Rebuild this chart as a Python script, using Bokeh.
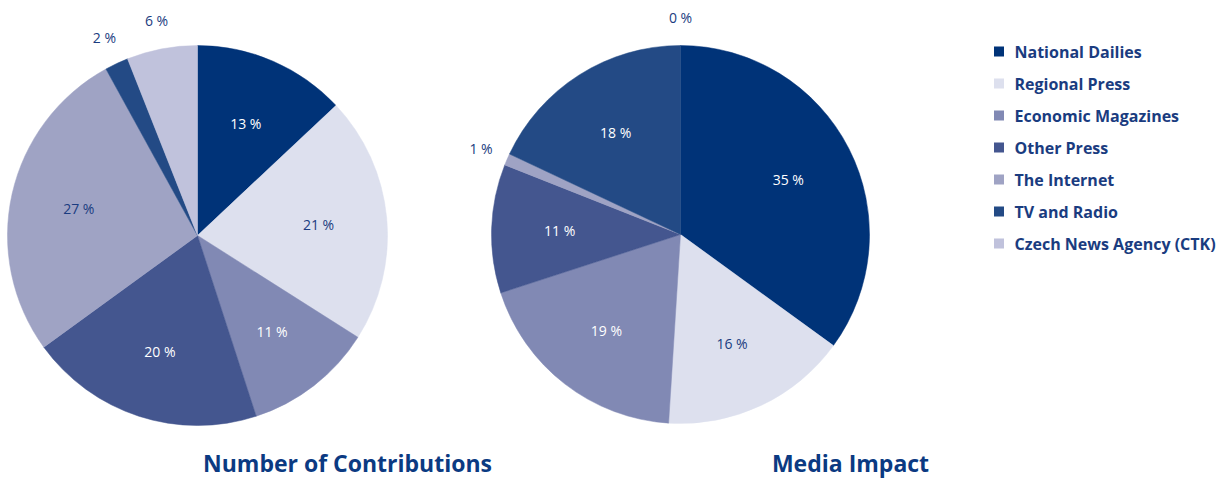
import math
from bokeh.plotting import figure
from bokeh.models import Range1d, ColumnDataSource
from bokeh.core.properties import value
from bokeh.embed import file_html
from bokeh.resources import INLINE

categories = ["National Dailies", "Regional Press", "Economic Magazines", "Other Press",
              "The Internet", "TV and Radio", "Czech News Agency (CTK)"]
contributions = [13, 21, 11, 20, 27, 2, 6]
media_impact = [35, 16, 19, 11, 1, 18, 0]
titles = ["Number of Contributions", "Media Impact"]

colors = ["#003378", "#dde0ee", "#8189b4", "#44568f", "#9fa3c4", "#234a85", "#c0c2dc"]
NAVY = "#1a3c80"
label_colors = ["white", NAVY, "white", "white", NAVY, "white", NAVY]
FONT = "Open Sans"

W, H = 1220, 478
p = figure(width=W, height=H, output_backend="svg", toolbar_location=None,
           x_range=Range1d(0, W), y_range=Range1d(0, H),
           min_border=0, outline_line_color=None)
p.axis.visible = False
p.grid.visible = False
p.background_fill_color = "white"


def Y(img_y):
    return H - img_y


def draw_pie(cx, cy, r, vals, title, tx, ty):
    total = sum(vals)
    cum = 0.0
    starts, ends, cols = [], [], []
    lx, ly, lt, lc = [], [], [], []
    for v, c, tc in zip(vals, colors, label_colors):
        a0 = math.pi / 2 - 2 * math.pi * cum / total
        a1 = math.pi / 2 - 2 * math.pi * (cum + v) / total
        if v > 0:
            starts.append(a1)
            ends.append(a0)
            cols.append(c)
        mid = (a0 + a1) / 2
        inside = v >= 10
        rr = r * (0.64 if inside else 1.15)
        lx.append(cx + rr * math.cos(mid))
        ly.append(cy + rr * math.sin(mid))
        lt.append(f"{v} %")
        lc.append(tc if inside else NAVY)
        cum += v
    src = ColumnDataSource(dict(s=starts, e=ends, c=cols))
    p.wedge(x=cx, y=cy, radius=r, start_angle="s", end_angle="e", fill_color="c",
            line_color="c", line_width=0.5, source=src)
    lsrc = ColumnDataSource(dict(x=lx, y=ly, t=lt, c=lc))
    p.text(x="x", y="y", text="t", text_color="c", source=lsrc,
           text_font=value(FONT), text_font_size="14px",
           text_align="center", text_baseline="middle")
    p.text(x=[tx], y=[ty], text=[title], text_color="#0b3a82",
           text_font=value(FONT), text_font_size="23px", text_font_style="bold",
           text_align="center", text_baseline="middle")


draw_pie(197, Y(235), 190, contributions, titles[0], 347, Y(462))
draw_pie(680, Y(234), 189, media_impact, titles[1], 850, Y(462))

# legend
lgx = [998.5] * len(categories)
lgy = [Y(51 + 32 * i) for i in range(len(categories))]
p.rect(x=lgx, y=lgy, width=10, height=10, fill_color=colors, line_color=None)
p.text(x=[1014] * len(categories), y=lgy, text=categories, text_color="#1a3c80",
       text_font=value(FONT), text_font_size="16px", text_font_style="bold",
       text_align="left", text_baseline="middle")

open("out.html", "w").write(file_html(p, INLINE))
